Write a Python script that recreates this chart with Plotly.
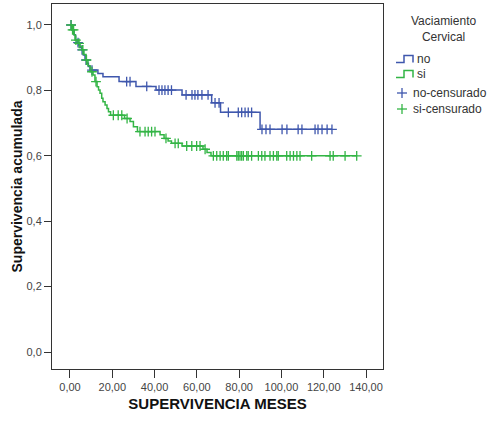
import plotly.graph_objects as go

# ---------------- data ----------------
no_event_t = [1.0, 1.9, 2.6, 3.3, 4.0, 4.7, 5.5, 6.3, 7.1, 7.9, 8.7, 9.5,
              13.2, 15.6, 23.2, 31.2, 40.7, 53.0, 67.0, 71.2, 89.9]
no_event_s = [0.985, 0.970, 0.954, 0.946, 0.939, 0.931, 0.924, 0.908, 0.893,
              0.883, 0.873, 0.862, 0.852, 0.842, 0.827, 0.812, 0.801, 0.786,
              0.762, 0.733, 0.681]
no_cens_t = [0.5, 3.8, 5.7, 7.6, 10.4, 26.8, 28.4, 36.3, 42.1, 43.5, 44.9,
             46.4, 48.0, 54.9, 57.7, 59.1, 60.5, 62.4, 65.3, 68.6, 70.5, 74.9,
             79.6, 81.2, 82.8, 84.3, 85.9, 90.8, 92.7, 94.6, 100.3, 102.6,
             107.9, 109.7, 115.9, 117.3, 119.2, 121.6, 123.9]

si_event_t = [1.0, 1.9, 2.4, 3.8, 4.7, 5.7, 6.6, 7.6, 8.5, 9.5, 10.9, 11.8,
              12.8, 13.5, 14.2, 15.0, 15.6, 16.6, 17.5, 18.2, 19.2, 25.8,
              28.4, 30.0, 31.9, 42.6, 44.5, 46.4, 48.0, 53.0, 62.9, 64.8, 66.7]
si_event_s = [0.985, 0.970, 0.954, 0.944, 0.934, 0.924, 0.910, 0.893, 0.875,
              0.857, 0.847, 0.827, 0.811, 0.801, 0.791, 0.776, 0.765, 0.755,
              0.745, 0.735, 0.724, 0.714, 0.705, 0.689, 0.674, 0.664, 0.653,
              0.645, 0.638, 0.630, 0.620, 0.610, 0.600]
si_cens_t = [0.5, 1.2, 1.7, 2.8, 4.3, 6.1, 7.8, 10.4, 12.3, 20.5, 22.8, 24.5,
             27.0, 33.1, 35.5, 37.0, 38.6, 40.2, 45.4, 49.7, 51.2, 55.2, 57.6,
             59.9, 61.5, 63.9, 67.8, 69.4, 71.0, 72.5, 74.1, 74.9, 78.9, 79.6,
             80.4, 81.2, 82.0, 83.6, 84.3, 85.9, 89.1, 90.7, 92.2, 94.6, 96.2,
             97.8, 98.5, 102.5, 104.1, 105.7, 107.3, 108.8, 114.3, 123.0,
             124.5, 130.1, 135.6]

x_ticks = [0, 20, 40, 60, 80, 100, 120, 140]
x_tick_labels = ["0,00", "20,00", "40,00", "60,00", "80,00", "100,00", "120,00", "140,00"]
y_ticks = [0.0, 0.2, 0.4, 0.6, 0.8, 1.0]
y_tick_labels = ["0,0", "0,2", "0,4", "0,6", "0,8", "1,0"]

legend_title = "Vaciamiento<br>Cervical"
group_names = ["no", "si"]
censor_names = ["no-censurado", "si-censurado"]

BLUE = "#3F57AD"
GREEN = "#33B545"


def surv_at(ev_t, ev_s, t):
    s = 1.0
    for et, es in zip(ev_t, ev_s):
        if et <= t:
            s = es
    return s


def step_xy(ev_t, ev_s, cens_t):
    end = max(max(cens_t), ev_t[-1])
    return [0.0] + ev_t + [end], [1.0] + ev_s + [ev_s[-1]]


fig = go.Figure()
for ev_t, ev_s, cens, col, nm, cn in [
    (no_event_t, no_event_s, no_cens_t, BLUE, group_names[0], censor_names[0]),
    (si_event_t, si_event_s, si_cens_t, GREEN, group_names[1], censor_names[1]),
]:
    xs, ys = step_xy(ev_t, ev_s, cens)
    fig.add_trace(go.Scatter(x=xs, y=ys, mode="lines", line_shape="hv",
                             line=dict(color=col, width=1.5), name=nm,
                             showlegend=False, hoverinfo="skip"))
    fig.add_trace(go.Scatter(x=cens, y=[surv_at(ev_t, ev_s, t) for t in cens],
                             mode="markers", name=cn, showlegend=False,
                             marker=dict(symbol="cross-thin", size=7,
                                         line=dict(color=col, width=1.3))))

# plot area in pixels
L, R, T, B = 52, 383, 4, 369
W, H = 495, 421


def pxx(x):
    return (x - L) / (R - L)


def pxy(y):
    return (B - y) / (B - T)


AX = "#333333"
fig.update_layout(
    width=W, height=H,
    margin=dict(l=L, r=W - R, t=T, b=H - B),
    plot_bgcolor="white", paper_bgcolor="white",
    font=dict(family="Liberation Sans, Arial, sans-serif", color="#222222"),
    showlegend=False,
)
fig.update_xaxes(
    range=[-8.51, 148.04], tickvals=x_ticks, ticktext=x_tick_labels,
    ticks="outside", ticklen=8, tickcolor=AX, tickwidth=1,
    showline=True, linecolor=AX, linewidth=1, mirror=True,
    showgrid=False, zeroline=False, automargin=False,
    tickfont=dict(size=11, color="#444444"),
    title=dict(text="<b>SUPERVIVENCIA MESES</b>", font=dict(size=15, color="#111111"),
               standoff=6),
)
fig.update_yaxes(
    range=[-0.052, 1.0642], tickvals=y_ticks, ticktext=y_tick_labels,
    ticks="outside", ticklen=7, tickcolor=AX, tickwidth=1,
    showline=True, linecolor=AX, linewidth=1, mirror=True,
    showgrid=False, zeroline=False, automargin=False,
    tickfont=dict(size=11, color="#444444"),
    title=dict(text="<b>Supervivencia acumulada</b>", font=dict(size=14, color="#111111"),
               standoff=0),
)

# ---------- manual legend (layout decoration) ----------
shapes = []
annotations = []
annotations.append(dict(xref="paper", yref="paper", x=pxx(443), y=pxy(29),
                        text=legend_title, showarrow=False, xanchor="center",
                        yanchor="middle", align="center",
                        font=dict(size=12, color="#333333")))
for col, name, ycen in [(BLUE, group_names[0], 59), (GREEN, group_names[1], 74)]:
    yb, yt = ycen + 3.5, ycen - 3.5
    path = (f"M {pxx(396)} {pxy(yb)} L {pxx(404)} {pxy(yb)} L {pxx(404)} {pxy(yt)} "
            f"L {pxx(413)} {pxy(yt)} L {pxx(413)} {pxy(yb)}")
    shapes.append(dict(type="path", xref="paper", yref="paper", path=path,
                       line=dict(color=col, width=1.5)))
    annotations.append(dict(xref="paper", yref="paper", x=pxx(415), y=pxy(ycen),
                            text=name, showarrow=False, xanchor="left",
                            yanchor="middle", font=dict(size=12, color="#333333")))
for col, name, ycen in [(BLUE, censor_names[0], 93), (GREEN, censor_names[1], 109)]:
    shapes.append(dict(type="line", xref="paper", yref="paper",
                       x0=pxx(397), x1=pxx(407), y0=pxy(ycen), y1=pxy(ycen),
                       line=dict(color=col, width=1.3)))
    shapes.append(dict(type="line", xref="paper", yref="paper",
                       x0=pxx(402), x1=pxx(402), y0=pxy(ycen - 5), y1=pxy(ycen + 5),
                       line=dict(color=col, width=1.3)))
    annotations.append(dict(xref="paper", yref="paper", x=pxx(411), y=pxy(ycen),
                            text=name, showarrow=False, xanchor="left",
                            yanchor="middle", font=dict(size=12, color="#333333")))
fig.update_layout(shapes=shapes, annotations=annotations)

fig.write_html("out.html", config={"displayModeBar": False},
               post_script="document.body.style.margin='0';")
